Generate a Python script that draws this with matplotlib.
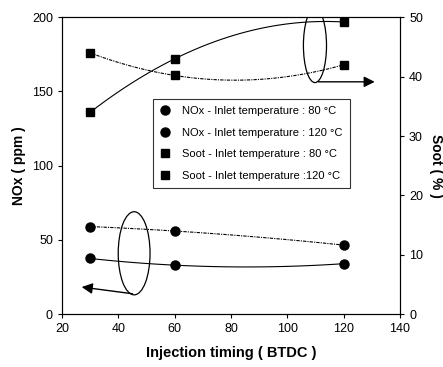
import numpy as np
import matplotlib
matplotlib.use("Agg")
import matplotlib.pyplot as plt
from matplotlib.patches import Ellipse

plt.rcParams['font.family'] = ['Liberation Sans', 'DejaVu Sans']

# data
timing = [30, 60, 120]
nox_80 = [37.5, 33, 34]
nox_120 = [59, 56, 46.5]
soot_80 = [34, 43, 49.2]
soot_120 = [44, 40.2, 42]


def smooth(x, y):
    # quadratic through the three points, like a smoothed spreadsheet line
    c = np.polyfit(x, y, 2)
    xs = np.linspace(min(x), max(x), 100)
    return xs, np.polyval(c, xs)


fig = plt.figure(figsize=(4.43, 3.67), dpi=100)
ax = fig.add_axes([0.14, 0.144, 0.763, 0.809])
ax2 = ax.twinx()

ax.plot(*smooth(timing, nox_80), color='black', lw=0.8)
ax.plot(*smooth(timing, nox_120), color='black', lw=0.8, ls=(0, (3, 1, 1, 1)))
ax.plot(timing, nox_80, 'o', color='black', ms=6.5, label='NOx - Inlet temperature : 80 °C')
ax.plot(timing, nox_120, 'o', color='black', ms=6.5, label='NOx - Inlet temperature : 120 °C')

ax2.plot(*smooth(timing, soot_80), color='black', lw=0.8)
ax2.plot(*smooth(timing, soot_120), color='black', lw=0.8, ls=(0, (3, 1, 1, 1)))
ax2.plot(timing, soot_80, 's', color='black', ms=5.5, label='Soot - Inlet temperature : 80 °C')
ax2.plot(timing, soot_120, 's', color='black', ms=5.5, label='Soot - Inlet temperature :120 °C')

ax.set_xlim(20, 140)
ax.set_ylim(0, 200)
ax2.set_ylim(0, 50)
ax.set_xticks(range(20, 141, 20))
ax.set_yticks(range(0, 201, 50))
ax2.set_yticks(range(0, 51, 10))

for a in (ax, ax2):
    a.tick_params(labelsize=9, length=3, width=0.8)
    for s in a.spines.values():
        s.set_linewidth(0.8)

ax.set_xlabel('Injection timing ( BTDC )', fontsize=10.5, fontweight='bold', labelpad=8)
ax.set_ylabel('NOx ( ppm )', fontsize=10, fontweight='bold')
ax2.set_ylabel('Soot ( % )', fontsize=10, fontweight='bold', rotation=270, labelpad=14)

# ellipses and arrows pointing at the relevant axis
ax.add_patch(Ellipse((109.8, 181), 8.2, 50, fill=False, color='black', lw=0.9))
ax.annotate('', xy=(132, 156.5), xytext=(110, 156.5),
            arrowprops=dict(arrowstyle='-|>', color='black', lw=1, mutation_scale=16))
ax.add_patch(Ellipse((45.6, 41), 11.3, 56, fill=False, color='black', lw=0.9))
ax.annotate('', xy=(26, 18.5), xytext=(46, 13.5),
            arrowprops=dict(arrowstyle='-|>', color='black', lw=1, mutation_scale=16))

h1, l1 = ax.get_legend_handles_labels()
h2, l2 = ax2.get_legend_handles_labels()
leg = ax2.legend(h1 + h2, l1 + l2, loc='center', bbox_to_anchor=(0.56, 0.575),
                 fontsize=8, frameon=True, fancybox=False, edgecolor='black',
                 handlelength=1, handletextpad=1.0, labelspacing=1.05, borderpad=0.65,
                 borderaxespad=0)
leg.get_frame().set_linewidth(0.8)

fig.savefig('out.png', dpi=100)
